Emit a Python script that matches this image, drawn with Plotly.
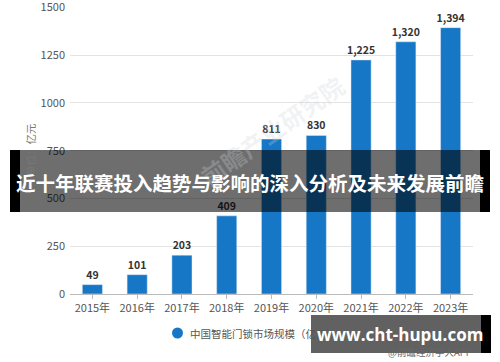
import plotly.graph_objects as go

years = ["2015年", "2016年", "2017年", "2018年", "2019年", "2020年", "2021年", "2022年", "2023年"]
values = [49, 101, 203, 409, 811, 830, 1225, 1320, 1394]
value_labels = ["49", "101", "203", "409", "811", "830", "1,225", "1,320", "1,394"]
y_ticks = [0, 250, 500, 750, 1000, 1250, 1500]

series_name = "中国智能门锁市场规模（亿元）"
y_title = "单位：亿元"
title_text = "近十年联赛投入趋势与影响的深入分析及未来发展前瞻"
site_text = "www.cht-hupu.com"
source_text = "@前瞻经济学人APP"
watermark_text = "前瞻产业研究院"

FONT = "Noto Sans CJK SC, Microsoft YaHei, sans-serif"
BLUE = "#1677c6"

fig = go.Figure()
fig.add_trace(go.Bar(
    x=years, y=values, marker_color=BLUE, name=series_name,
    text=value_labels, textposition="outside", constraintext="none",
    textfont=dict(size=10.5, color="#333333", family=FONT, weight="bold"),
    cliponaxis=False, showlegend=False,
))

fig.update_layout(
    width=500, height=362,
    margin=dict(l=70, r=27, t=7, b=68, autoexpand=False),
    paper_bgcolor="white", plot_bgcolor="white",
    bargap=0.55,
    font=dict(family=FONT, color="#666666", size=11),
    xaxis=dict(showline=True, linecolor="#bbbbbb", linewidth=1, ticks="outside",
               ticklen=4, tickcolor="#bbbbbb", tickfont=dict(size=11, color="#555555"),
               showgrid=False, automargin=False),
    yaxis=dict(range=[0, 1502], tickvals=y_ticks, ticktext=[str(v) for v in y_ticks],
               gridcolor="#e3e3e3", gridwidth=1, zeroline=False, ticklabeloverflow="allow",
               tickfont=dict(size=11, color="#555555"), ticklabelstandoff=4, automargin=False),
)

def py(pix):
    return (294 - pix) / 287

def px(pix):
    return (pix - 70) / 403

# y axis title
fig.add_annotation(text=y_title, xref="paper", yref="paper", x=px(30), y=py(150),
                   xanchor="center", yanchor="middle", showarrow=False, textangle=-90,
                   font=dict(size=10.5, color="#777777", family=FONT))

# faint watermark
fig.add_annotation(text=watermark_text, xref="paper", yref="paper", x=px(190), y=py(65),
                   showarrow=False, textangle=-35,
                   font=dict(size=24, color="rgba(205,210,216,0.28)", family=FONT, weight="bold"))

# legend (circle + text)
fig.add_shape(type="circle", xref="paper", yref="paper",
              x0=px(172), x1=px(183), y0=py(338.5), y1=py(327.5),
              fillcolor=BLUE, line=dict(width=0))
fig.add_annotation(text=series_name, xref="paper", yref="paper",
                   x=px(188), y=py(333), xanchor="left", yanchor="middle",
                   showarrow=False, font=dict(size=10.5, color="#555555", family=FONT))
fig.add_annotation(text=source_text, xref="paper", yref="paper",
                   x=px(474), y=py(352), xanchor="right", yanchor="middle",
                   showarrow=False, font=dict(size=9.5, color="#666666", family=FONT))

# dark title band
fig.add_shape(type="rect", xref="paper", yref="paper", layer="above",
              x0=px(10), x1=px(490), y0=py(212), y1=py(150),
              fillcolor="rgba(0,0,0,0.57)", line=dict(width=0))
fig.add_shape(type="rect", xref="paper", yref="paper", layer="above",
              x0=px(10), x1=px(20), y0=py(212), y1=py(150),
              fillcolor="black", line=dict(width=0))
fig.add_shape(type="rect", xref="paper", yref="paper", layer="above",
              x0=px(480), x1=px(490), y0=py(212), y1=py(150),
              fillcolor="black", line=dict(width=0))
fig.add_annotation(text=title_text, xref="paper", yref="paper",
                   x=px(250), y=py(182), xanchor="center", yanchor="middle",
                   showarrow=False,
                   font=dict(size=19.5, color="white", family=FONT, weight="bold"))

# site watermark box
fig.add_shape(type="rect", xref="paper", yref="paper", layer="above",
              x0=px(311), x1=px(491), y0=py(353), y1=py(315),
              fillcolor="rgba(0,0,0,0.62)", line=dict(width=0))
fig.add_shape(type="rect", xref="paper", yref="paper", layer="above",
              x0=px(481), x1=px(491), y0=py(353), y1=py(315),
              fillcolor="black", line=dict(width=0))
fig.add_annotation(text=site_text, xref="paper", yref="paper",
                   x=px(400), y=py(334), xanchor="center", yanchor="middle",
                   showarrow=False,
                   font=dict(size=17, color="white", family="Open Sans, DejaVu Sans, sans-serif", weight="bold"))

fig.write_html("out.html")
